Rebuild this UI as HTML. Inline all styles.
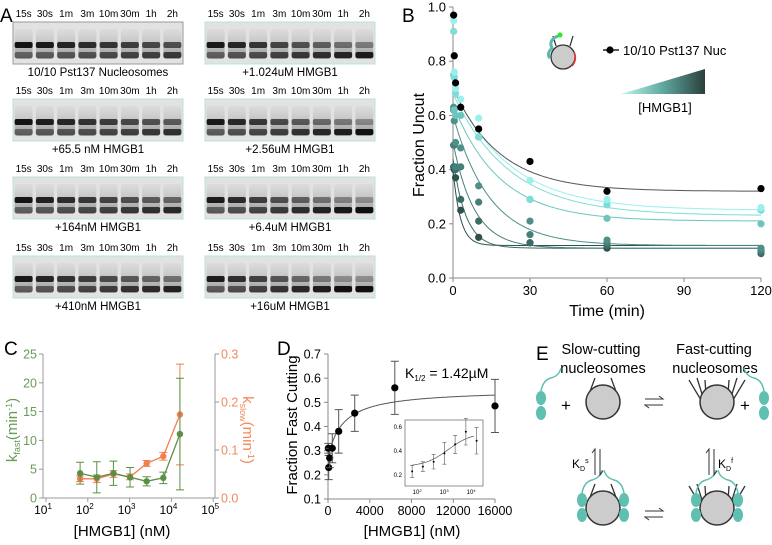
<!DOCTYPE html>
<html><head><meta charset="utf-8"><style>
body{margin:0;background:#fff;width:772px;height:545px;overflow:hidden;font-family:"Liberation Sans",sans-serif}
svg{position:absolute;left:0;top:0}
text{font-family:"Liberation Sans",sans-serif}
</style></head><body>
<svg id="s" width="772" height="545" viewBox="0 0 772 545">
<defs>
<linearGradient id="tri" x1="0" x2="1"><stop offset="0" stop-color="#bff5f2"/><stop offset="0.5" stop-color="#5fa8a0"/><stop offset="1" stop-color="#2c3f3d"/></linearGradient>
<linearGradient id="smear" x1="0" x2="0" y1="0" y2="1"><stop offset="0" stop-color="#aaa" stop-opacity="0.2"/><stop offset="1" stop-color="#555"/></linearGradient>
</defs>
<g id="panelA"></g>
<g id="panelB"></g>
<g id="panelC"></g>
<g id="panelD"></g>
<g id="panelE"></g>
</svg>
<script>
// ---------- data ----------
const gelTimes = ["15s","30s","1m","3m","10m","30m","1h","2h"];
const gelCaptions = ["10/10 Pst137 Nucleosomes","+65.5 nM HMGB1","+164nM HMGB1","+410nM HMGB1","+1.024uM HMGB1","+2.56uM HMGB1","+6.4uM HMGB1","+16uM HMGB1"];

const bTimes = [0.25,0.5,1,3,10,30,60,120];
const bBlack = [0.97,0.82,0.72,0.63,0.55,0.43,0.32,0.33];
const bS1 = [0.95,0.76,0.70,0.66,0.59,0.36,0.29,0.26];
const bS2 = [0.91,0.74,0.68,0.63,0.52,0.29,0.27,0.25];
const bS3 = [0.75,0.62,0.60,0.60,0.52,0.29,0.22,0.20];
const bS4 = [0.63,0.58,0.50,0.48,0.34,0.21,0.14,0.11];
const bS5 = [0.62,0.49,0.41,0.41,0.28,0.16,0.13,0.10];
const bS6 = [0.49,0.41,0.40,0.29,0.21,0.13,0.12,0.09];
const bS7 = [0.41,0.40,0.37,0.25,0.15,0.13,0.11,0.10];
const bFitStart = [0.70,0.70,0.68,0.64,0.60,0.50,0.44,0.40];
const bFitPlateau = [0.32,0.25,0.23,0.21,0.12,0.11,0.11,0.12];
const bFitRate = [0.055,0.045,0.045,0.055,0.07,0.12,0.2,0.35];
const bColors = ["#000","#9af0ec","#7fdcd6","#6cc6be","#4f8f88","#457f79","#3b6c67","#2f514e"];
const bTicksX = [0,30,60,90,120];
const bTicksY = [0,0.2,0.4,0.6,0.8,1.0];

const cConc = [65.5,164,410,1024,2560,6400,16000];
const cFast = [4.3,3.6,4.3,3.6,2.9,3.5,11.1];
const cFastErr = [1.9,2.7,2.1,1.7,0.8,1.0,9.7];
const cSlow = [0.040,0.040,0.050,0.044,0.072,0.087,0.174];
const cSlowErr = [0.006,0.008,0.007,0.006,0.006,0.008,0.105];
const cTicksL = [0,5,10,15,20,25];
const cTicksR = [0,0.1,0.2,0.3];

const dConc = [30,65.5,164,410,1024,2560,6400,16000];
const dVal = [0.31,0.23,0.27,0.31,0.38,0.455,0.56,0.485];
const dErr = [0.02,0.05,0.04,0.06,0.09,0.075,0.11,0.11];
const dFit = [0.27,0.283,1420]; // base, amplitude, K1/2
const dTicksX = [0,4000,8000,12000,16000];
const dTicksY = [0.1,0.2,0.3,0.4,0.5,0.6,0.7];

// ---------- helpers ----------
const NS="http://www.w3.org/2000/svg";
function el(p,tag,at,txt){const e=document.createElementNS(NS,tag);for(const k in at)e.setAttribute(k,at[k]);if(txt!=null)e.textContent=txt;p.appendChild(e);return e;}

// ---------- Panel A ----------
const A=document.getElementById('panelA');
let t=el(A,'text',{x:0,y:22,'font-size':19},'A');


const gelX=[13,205], gelY=[22,99,177,256], gw=170, gh=42;
for(let g=0;g<8;g++){
  const col=g<4?0:1,row=g%4;
  const gx=gelX[col],gy=gelY[row];
  const gg=el(A,'g',{});
  
  
  el(gg,'rect',{x:gx,y:gy,width:gw,height:gh,fill:'#e2e2e2',stroke:g==0?'#999':'#b8e0dc','stroke-width':1});
  const lw=gw/8;
  for(let l=0;l<8;l++){
    const cx=gx+lw*l+lw/2;
    const lab=el(A,'text',{x:cx,y:gy-5,'font-size':10,'text-anchor':'middle'},gelTimes[l]);
    
    
    const cut=Math.min(0.95,(l+1)/8*(0.5+g*0.08));
    el(gg,'rect',{x:cx-9,y:gy+7,width:18,height:30,rx:3,fill:'url(#smear)',opacity:0.55});
    el(gg,'rect',{x:cx-9,y:gy+20,width:18,height:6,rx:2,fill:'#0a0a0a',opacity:(1-cut*0.75).toFixed(2)});
    el(gg,'rect',{x:cx-9,y:gy+30,width:18,height:6,rx:2,fill:'#0a0a0a',opacity:(0.4+cut*0.6).toFixed(2)});
  }
  const cap=el(A,'text',{x:gx+gw/2,y:gy+gh+12,'font-size':11.5,'text-anchor':'middle'},gelCaptions[g]);
  
  
}

// ---------- Panel B ----------
const B=document.getElementById('panelB');
const bx=v=>453+v*(308/120), by=v=>278-v*271;
t=el(B,'text',{x:402,y:22,'font-size':19},'B');


el(B,'line',{x1:453,y1:by(1),x2:453,y2:278,stroke:'#888','stroke-width':1});
el(B,'line',{x1:453,y1:278,x2:761,y2:278,stroke:'#888','stroke-width':1});
bTicksY.forEach(v=>{el(B,'line',{x1:449,y1:by(v),x2:453,y2:by(v),stroke:'#888'});
  const tl=el(B,'text',{x:446,y:by(v)+4.5,'font-size':13,'text-anchor':'end'},v.toFixed(1));
  
  });
bTicksX.forEach(v=>{el(B,'line',{x1:bx(v),y1:278,x2:bx(v),y2:282,stroke:'#888'});
  const tl=el(B,'text',{x:bx(v),y:295,'font-size':13,'text-anchor':'middle'},v);
  
  });
t=el(B,'text',{x:607,y:316,'font-size':16,'text-anchor':'middle'},'Time (min)');


t=el(B,'text',{x:0,y:0,'font-size':16,'text-anchor':'middle',transform:'translate(424,145) rotate(-90)'},'Fraction Uncut');


const bSeries=[bBlack,bS1,bS2,bS3,bS4,bS5,bS6,bS7];
for(let s=bSeries.length-1;s>=0;s--){
  let d='';
  for(let i=0;i<=240;i++){const tt=i/2;const v=bFitPlateau[s]+(bFitStart[s]-bFitPlateau[s])*Math.exp(-bFitRate[s]*tt);d+=(i?'L':'M')+bx(tt).toFixed(1)+','+by(v).toFixed(1);}
  const fc=el(B,'path',{d:d,fill:'none',stroke:s==0?'#555':bColors[s],'stroke-width':1});
  
  
}
for(let s=bSeries.length-1;s>=0;s--){
  bSeries[s].forEach((v,i)=>{
    const c=el(B,'circle',{cx:bx(bTimes[i]),cy:by(v),r:3.6,fill:bColors[s]});
    
    
  });
}
// legend
const lg=el(B,'g',{});


el(lg,'line',{x1:603,y1:50,x2:619,y2:50,stroke:'#000','stroke-width':1.3});
el(lg,'circle',{cx:610,cy:50,r:3.6,fill:'#000'});
el(lg,'text',{x:623,y:55,'font-size':13},'10/10 Pst137 Nuc');
el(lg,'polygon',{points:'621,94 705,69 705,94',fill:'url(#tri)'});
el(lg,'text',{x:665,y:112,'font-size':13,'text-anchor':'middle'},'[HMGB1]');
// nucleosome icon
const ic=el(B,'g',{});


el(ic,'path',{d:'M556,46 L553,36 M570,46 L573,36',stroke:'#333','stroke-width':1.3});
el(ic,'circle',{cx:563,cy:57,r:12,fill:'#ccc',stroke:'#333','stroke-width':1.3});
el(ic,'path',{d:'M574,52 A12,12 0 0 1 572,66',stroke:'#e33',fill:'none','stroke-width':1.5});
el(ic,'path',{d:'M558,36 Q548,40 552,48 Q546,54 550,58',stroke:'#5cb8ae',fill:'none','stroke-width':3});
el(ic,'circle',{cx:560,cy:35,r:2.5,fill:'#2e2'});

// ---------- Panel C ----------
const C=document.getElementById('panelC');
const cx=v=>46+(Math.log10(v)-1)*41.8, cyL=v=>498-v*(144/25), cyR=v=>498-v*(144/0.3);
t=el(C,'text',{x:4,y:355,'font-size':19},'C');


el(C,'line',{x1:43,y1:354,x2:43,y2:498,stroke:'#999'});
el(C,'line',{x1:43,y1:498,x2:215,y2:498,stroke:'#999'});
el(C,'line',{x1:215,y1:354,x2:215,y2:498,stroke:'#999'});
cTicksL.forEach(v=>{el(C,'line',{x1:39,y1:cyL(v),x2:43,y2:cyL(v),stroke:'#999'});
  const tl=el(C,'text',{x:37,y:cyL(v)+4.5,'font-size':12.5,'text-anchor':'end',fill:'#6a9b56'},v);
  
  });
cTicksR.forEach(v=>{el(C,'line',{x1:215,y1:cyR(v),x2:219,y2:cyR(v),stroke:'#999'});
  const tl=el(C,'text',{x:221,y:cyR(v)+4.5,'font-size':12.5,fill:'#f08a5d'},v.toFixed(1));
  
  });
[1,2,3,4,5].forEach(p=>{const xx=cx(Math.pow(10,p));el(C,'line',{x1:xx,y1:498,x2:xx,y2:502,stroke:'#999'});
  const tl=el(C,'text',{x:xx-3,y:514,'font-size':12,'text-anchor':'middle'},'10');
  el(tl,'tspan',{dy:-5,'font-size':8},p);
  
  });
t=el(C,'text',{x:122,y:536,'font-size':15,'text-anchor':'middle'},'[HMGB1] (nM)');


t=el(C,'text',{x:0,y:0,'font-size':15,'text-anchor':'middle',fill:'#6a9b56',transform:'translate(17,430) rotate(-90)'});
el(t,'tspan',{},'k');el(t,'tspan',{'font-size':9,dy:3},'fast');el(t,'tspan',{dy:-3},'(min');el(t,'tspan',{'font-size':9,dy:-5},'-1');el(t,'tspan',{dy:5},')');


t=el(C,'text',{x:0,y:0,'font-size':15,'text-anchor':'middle',fill:'#f08a5d',transform:'translate(243,430) rotate(90)'});
el(t,'tspan',{},'k');el(t,'tspan',{'font-size':9,dy:3},'slow');el(t,'tspan',{dy:-3},'(min');el(t,'tspan',{'font-size':9,dy:-5},'-1');el(t,'tspan',{dy:5},')');


function seriesC(vals,errs,yf,color,name){
  el(C,'path',{d:vals.map((v,i)=>(i?'L':'M')+cx(cConc[i])+','+yf(v)).join(''),fill:'none',stroke:color,'stroke-width':1.3});
  vals.forEach((v,i)=>{const x=cx(cConc[i]);
    el(C,'path',{d:`M${x},${yf(v-errs[i])}V${yf(v+errs[i])}M${x-4},${yf(v-errs[i])}h8M${x-4},${yf(v+errs[i])}h8`,stroke:color,'stroke-width':1});
    const c=el(C,'circle',{cx:x,cy:yf(v),r:3.2,fill:color});
    
    });
}
seriesC(cSlow,cSlowErr,cyR,'#f08050','kslow-point');
seriesC(cFast,cFastErr,cyL,'#5a8f46','kfast-point');

// ---------- Panel D ----------
const D=document.getElementById('panelD');
const dx=v=>328+v*(167/16000), dy=v=>499-(v-0.1)*(145/0.6);
t=el(D,'text',{x:277,y:355,'font-size':19},'D');


el(D,'line',{x1:328,y1:354,x2:328,y2:499,stroke:'#888'});
el(D,'line',{x1:328,y1:499,x2:495,y2:499,stroke:'#888'});
dTicksY.forEach(v=>{el(D,'line',{x1:324,y1:dy(v),x2:328,y2:dy(v),stroke:'#888'});
  const tl=el(D,'text',{x:321,y:dy(v)+4.5,'font-size':12.5,'text-anchor':'end'},v.toFixed(1));
  
  });
dTicksX.forEach(v=>{el(D,'line',{x1:dx(v),y1:499,x2:dx(v),y2:503,stroke:'#888'});
  const tl=el(D,'text',{x:dx(v),y:515,'font-size':12.5,'text-anchor':'middle'},v);
  
  });
t=el(D,'text',{x:412,y:536,'font-size':15,'text-anchor':'middle'},'[HMGB1] (nM)');


t=el(D,'text',{x:0,y:0,'font-size':15,'text-anchor':'middle',transform:'translate(297,425) rotate(-90)'},'Fraction Fast Cutting');


t=el(D,'text',{x:405,y:378,'font-size':14});
el(t,'tspan',{},'K');el(t,'tspan',{'font-size':8,dy:3},'1/2');el(t,'tspan',{dy:-3},' = 1.42µM');


let fd='';for(let i=0;i<=160;i++){const c=i*100;const v=dFit[0]+dFit[1]*c/(dFit[2]+c);fd+=(i?'L':'M')+dx(c).toFixed(1)+','+dy(v).toFixed(1);}
t=el(D,'path',{d:fd,fill:'none',stroke:'#555','stroke-width':1});


dVal.forEach((v,i)=>{const x=dx(dConc[i]);
  el(D,'path',{d:`M${x},${dy(v-dErr[i])}V${dy(v+dErr[i])}M${x-4},${dy(v-dErr[i])}h8M${x-4},${dy(v+dErr[i])}h8`,stroke:'#555','stroke-width':1});
  const c=el(D,'circle',{cx:x,cy:dy(v),r:3.6,fill:'#000'});
  
  });
// inset
const ins=el(D,'g',{});


el(ins,'rect',{x:405,y:420,width:78,height:66,fill:'#fff',stroke:'#777','stroke-width':0.8});
const ix=v=>409+(Math.log10(v)-1.7)*27, iy=v=>481-(v-0.15)*(60/0.5);
[0.2,0.4,0.6].forEach(v=>el(ins,'text',{x:402,y:iy(v)+2,'font-size':6,'text-anchor':'end'},v.toFixed(1)));
[2,3,4].forEach(p=>{const tl=el(ins,'text',{x:ix(Math.pow(10,p)),y:494,'font-size':6,'text-anchor':'middle'},'10');el(tl,'tspan',{dy:-2,'font-size':4},p);});
let id='';for(let i=0;i<=40;i++){const c=Math.pow(10,1.8+i*0.0575);const v=dFit[0]+dFit[1]*c/(dFit[2]+c);id+=(i?'L':'M')+ix(c).toFixed(1)+','+iy(v).toFixed(1);}
el(ins,'path',{d:id,fill:'none',stroke:'#555','stroke-width':0.7});
dVal.slice(1).forEach((v,i)=>{const c=dConc[i+1],x=ix(c),e=dErr[i+1];
  el(ins,'path',{d:`M${x},${iy(v-e)}V${iy(v+e)}M${x-2},${iy(v-e)}h4M${x-2},${iy(v+e)}h4`,stroke:'#555','stroke-width':0.6});
  el(ins,'circle',{cx:x,cy:iy(v),r:1,fill:'#000'});});

// ---------- Panel E ----------
const E=document.getElementById('panelE');
t=el(E,'text',{x:536,y:360,'font-size':19},'E');


[['Slow-cutting',601,354],['nucleosomes',603,373],['Fast-cutting',714,354],['nucleosomes',715,373]].forEach(a=>{
  const tl=el(E,'text',{x:a[1],y:a[2],'font-size':14.5,'text-anchor':'middle'},a[0]);
  
  });
function nuc(x,y,fast){
  const g=el(E,'g',{});
  
  
  if(fast){[[-28,-20],[-20,-22],[-12,-20],[12,-20],[20,-22],[28,-20]].forEach(p=>el(g,'line',{x1:x+(p[0]<0?-10:10),y1:y+8,x2:x+p[0],y2:y+p[1]-2,stroke:'#333','stroke-width':1.3}));}
  else{el(g,'path',{d:`M${x-14},${y-8} L${x-8},${y-24} M${x+14},${y-8} L${x+8},${y-24}`,stroke:'#333','stroke-width':1.3,fill:'none'});}
  el(g,'circle',{cx:x,cy:y,r:17,fill:'#ccc',stroke:'#333','stroke-width':1.5});
}
function hmg(x,y,flip){
  const g=el(E,'g',{});
  
  
  el(g,'ellipse',{cx:x,cy:y,rx:5,ry:7,fill:'#5fbfb0'});
  el(g,'ellipse',{cx:x,cy:y+15,rx:5,ry:7,fill:'#5fbfb0'});
  el(g,'path',{d:`M${x},${y-7} Q${x+(flip?-2:2)},${y-18} ${x+(flip?-10:10)},${y-20} Q${x+(flip?-18:18)},${y-22} ${x+(flip?-20:20)},${y-30}`,fill:'none',stroke:'#5fbfb0','stroke-width':1.5});
}
nuc(603,402,false);nuc(717,402,true);nuc(603,508,false);nuc(717,508,true);
hmg(541,398,false);hmg(764,398,true);
hmg(582,500,false);hmg(624,500,true);hmg(696,500,false);hmg(738,500,true);
[['+',566,411],['+',745,411]].forEach(a=>el(E,'text',{x:a[1],y:a[2],'font-size':17,'text-anchor':'middle'},a[0]));
function eq(x,y){el(E,'path',{d:`M${x},${y} h18 l-4,-3 M${x+18},${y+6} h-18 l4,3`,stroke:'#333',fill:'none','stroke-width':1});}
eq(645,399);eq(645,511);
function veq(x,y){el(E,'path',{d:`M${x},${y+26} v-26 l-3,4 M${x+5},${y} v26 l3,-4`,stroke:'#333',fill:'none','stroke-width':1});}
veq(595,449);veq(709,449);
t=el(E,'text',{x:572,y:468,'font-size':12});el(t,'tspan',{},'K');el(t,'tspan',{'font-size':7,dy:3},'D');el(t,'tspan',{'font-size':7,dy:-8},'s');
t=el(E,'text',{x:718,y:468,'font-size':12});el(t,'tspan',{},'K');el(t,'tspan',{'font-size':7,dy:3},'D');el(t,'tspan',{'font-size':7,dy:-8},'f');
</script>
</body></html>
